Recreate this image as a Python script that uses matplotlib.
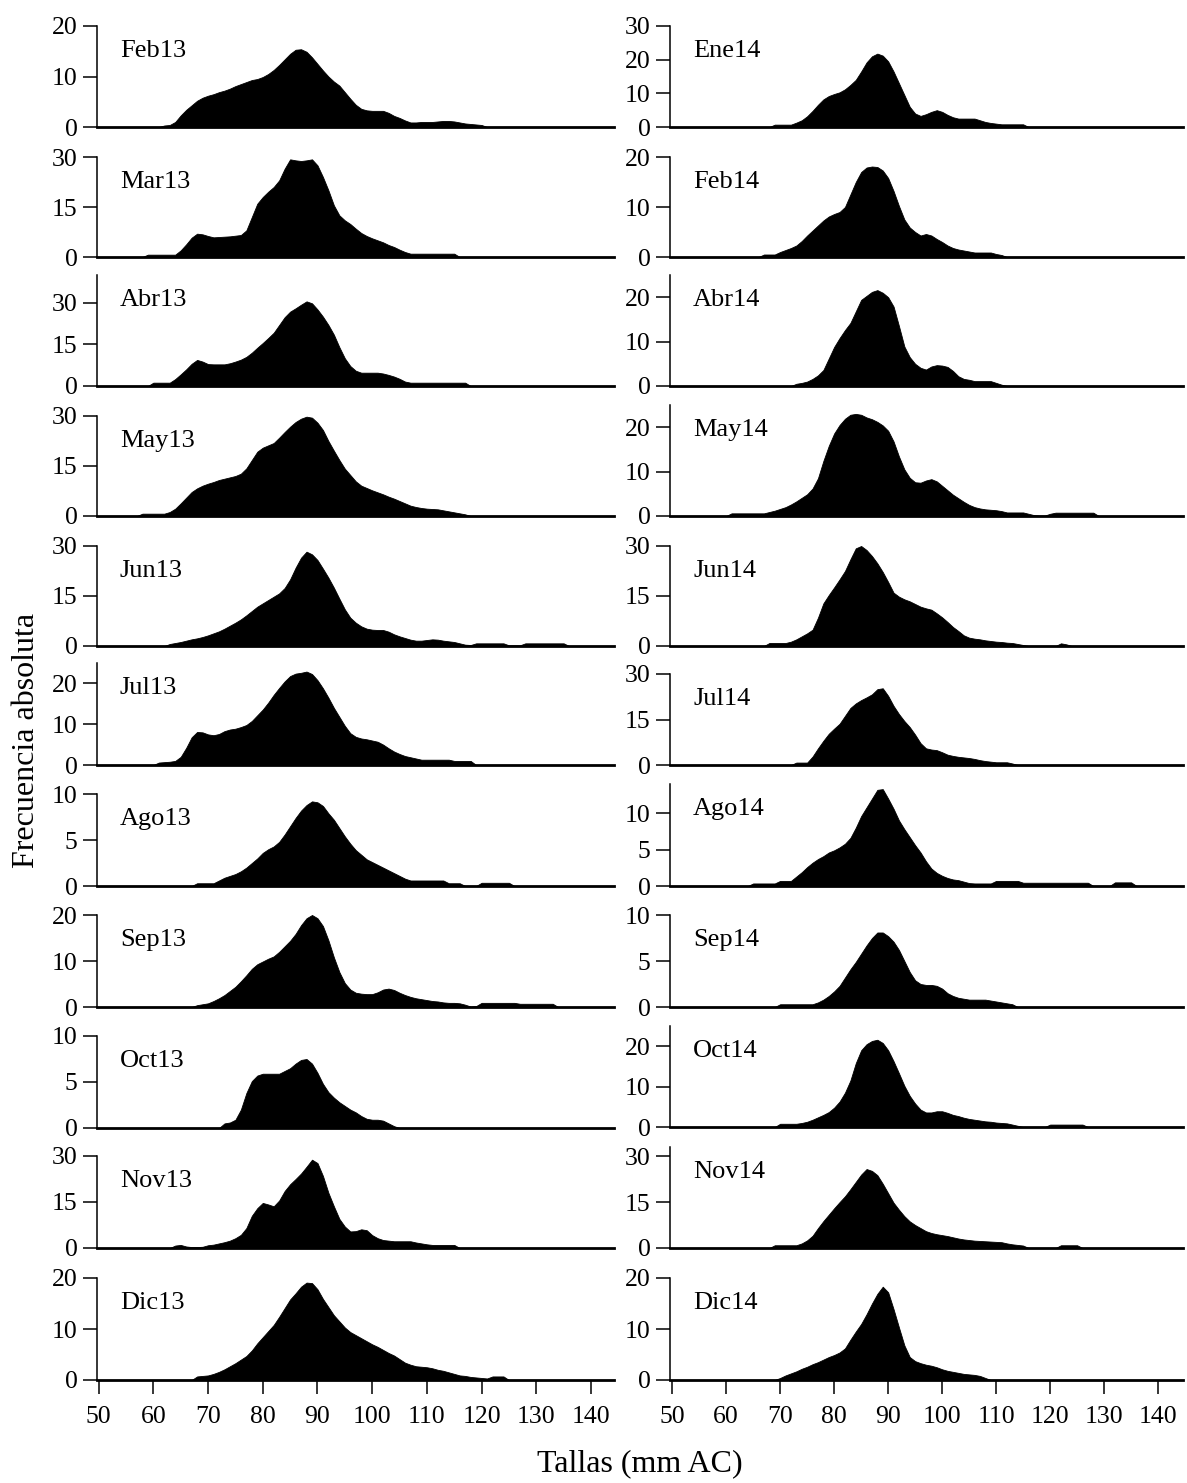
import numpy as np
import matplotlib
matplotlib.use("Agg")
import matplotlib.pyplot as plt

plt.rcParams["font.family"] = ["Liberation Serif", "DejaVu Serif"]

# size classes (mm AC), one value per mm
tallas = np.arange(50, 145)

meses_izq = ["Feb13", "Mar13", "Abr13", "May13", "Jun13", "Jul13",
             "Ago13", "Sep13", "Oct13", "Nov13", "Dic13"]
meses_der = ["Ene14", "Feb14", "Abr14", "May14", "Jun14", "Jul14",
             "Ago14", "Sep14", "Oct14", "Nov14", "Dic14"]

# frequencies, x = 50 ... 144
feb13 = [0, 0, 0, 0, 0, 0, 0, 0, 0, 0,
         0, 0, 0.3, 0.4, 1.0, 2.3, 3.4, 4.3, 5.2, 5.8,
         6.2, 6.5, 6.9, 7.2, 7.6, 8.1, 8.5, 8.9, 9.3, 9.5,
         9.9, 10.5, 11.3, 12.3, 13.4, 14.5, 15.3, 15.4, 14.9, 13.8,
         12.5, 11.2, 10.0, 9.0, 8.2, 6.9, 5.6, 4.4, 3.6, 3.3,
         3.2, 3.2, 3.2, 2.8, 2.2, 1.8, 1.3, 0.9, 0.9, 1.0,
         1.0, 1.0, 1.1, 1.2, 1.2, 1.1, 0.9, 0.7, 0.6, 0.5,
         0.4, 0, 0, 0, 0, 0, 0, 0, 0, 0,
         0, 0, 0, 0, 0, 0, 0, 0, 0, 0,
         0, 0, 0, 0, 0]
mar13 = [0, 0, 0, 0, 0, 0, 0, 0, 0, 0.7,
         0.7, 0.7, 0.7, 0.7, 0.7, 2.0, 3.8, 5.8, 7.0, 6.8,
         6.3, 5.9, 6.0, 6.1, 6.2, 6.4, 6.6, 8.0, 12.0, 16.0,
         18.0, 19.6, 21.0, 23.0, 26.5, 29.3, 29.0, 28.8, 29.0, 29.3,
         27.5, 24.0, 20.0, 15.5, 12.5, 11.0, 9.9, 8.5, 7.2, 6.3,
         5.6, 5.0, 4.4, 3.6, 3.0, 2.2, 1.5, 1.0, 1.0, 1.0,
         1.0, 1.0, 1.0, 1.0, 1.0, 1.0, 0, 0, 0, 0,
         0, 0, 0, 0, 0, 0, 0, 0, 0, 0,
         0, 0, 0, 0, 0, 0, 0, 0, 0, 0,
         0, 0, 0, 0, 0]
abr13 = [0, 0, 0, 0, 0, 0, 0, 0, 0, 0,
         1.2, 1.2, 1.2, 1.2, 2.5, 4.2, 6.0, 8.0, 9.4, 8.8,
         7.9, 7.8, 7.8, 7.8, 8.2, 8.8, 9.5, 10.5, 12.0, 13.8,
         15.5, 17.3, 19.2, 22.0, 24.8, 26.8, 28.0, 29.3, 30.5, 29.8,
         27.6, 25.0, 22.0, 18.5, 14.0, 10.0, 7.2, 5.5, 4.8, 4.8,
         4.8, 4.8, 4.5, 4.0, 3.4, 2.6, 1.6, 1.2, 1.2, 1.2,
         1.2, 1.2, 1.2, 1.2, 1.2, 1.2, 1.2, 1.2, 0, 0,
         0, 0, 0, 0, 0, 0, 0, 0, 0, 0,
         0, 0, 0, 0, 0, 0, 0, 0, 0, 0,
         0, 0, 0, 0, 0]
may13 = [0, 0, 0, 0, 0, 0, 0, 0, 0.7, 0.7,
         0.7, 0.7, 0.7, 1.2, 2.2, 3.8, 5.5, 7.2, 8.3, 9.1,
         9.7, 10.2, 10.8, 11.2, 11.6, 12.0, 12.7, 14.3, 16.8, 19.3,
         20.5, 21.2, 21.9, 23.5, 25.2, 26.8, 28.2, 29.2, 29.8, 29.5,
         28.0, 25.8, 22.5, 19.6, 16.8, 14.2, 12.3, 10.4, 9.1, 8.4,
         7.7, 7.1, 6.5, 5.8, 5.2, 4.5, 3.8, 3.1, 2.7, 2.4,
         2.2, 2.1, 2.0, 1.7, 1.4, 1.1, 0.8, 0.5, 0, 0,
         0, 0, 0, 0, 0, 0, 0, 0, 0, 0,
         0, 0, 0, 0, 0, 0, 0, 0, 0, 0,
         0, 0, 0, 0, 0]
jun13 = [0, 0, 0, 0, 0, 0, 0, 0, 0, 0,
         0, 0, 0, 0.6, 0.9, 1.2, 1.6, 2.0, 2.3, 2.7,
         3.2, 3.8, 4.4, 5.2, 6.1, 7.0, 8.0, 9.2, 10.5, 11.8,
         12.8, 13.8, 14.8, 15.8, 17.4, 20.0, 23.5, 26.5, 28.3, 27.5,
         25.8, 23.2, 20.5, 17.5, 14.2, 11.0, 8.5, 7.0, 5.9, 5.2,
         4.9, 4.8, 4.8, 4.3, 3.5, 2.9, 2.4, 1.9, 1.6, 1.6,
         1.8, 2.0, 1.9, 1.6, 1.4, 1.2, 0.8, 0.4, 0.3, 0.8,
         0.8, 0.8, 0.8, 0.8, 0.8, 0.2, 0.2, 0.2, 0.8, 0.8,
         0.8, 0.8, 0.8, 0.8, 0.8, 0.8, 0, 0, 0, 0,
         0, 0, 0, 0, 0]
jul13 = [0, 0, 0, 0, 0, 0, 0, 0, 0, 0,
         0, 0.6, 0.7, 0.8, 1.0, 2.0, 4.2, 6.8, 8.1, 8.0,
         7.5, 7.3, 7.6, 8.3, 8.7, 8.9, 9.3, 9.8, 10.8, 12.2,
         13.6, 15.3, 17.2, 18.9, 20.5, 21.8, 22.4, 22.6, 22.9, 22.3,
         20.8, 18.8, 16.5, 14.0, 11.8, 9.6, 7.8, 6.9, 6.5, 6.3,
         6.0, 5.7, 5.0, 4.1, 3.3, 2.7, 2.2, 1.9, 1.6, 1.3,
         1.3, 1.3, 1.3, 1.3, 1.3, 1.0, 1.0, 1.0, 1.0, 0,
         0, 0, 0, 0, 0, 0, 0, 0, 0, 0,
         0, 0, 0, 0, 0, 0, 0, 0, 0, 0,
         0, 0, 0, 0, 0]
ago13 = [0, 0, 0, 0, 0, 0, 0, 0, 0, 0,
         0, 0, 0, 0, 0, 0, 0, 0, 0.3, 0.3,
         0.3, 0.3, 0.6, 0.9, 1.1, 1.3, 1.6, 2.0, 2.5, 3.0,
         3.6, 4.0, 4.3, 4.8, 5.6, 6.5, 7.4, 8.2, 8.8, 9.2,
         9.1, 8.7, 7.9, 7.2, 6.3, 5.4, 4.6, 3.9, 3.4, 2.9,
         2.6, 2.3, 2.0, 1.7, 1.4, 1.1, 0.8, 0.6, 0.6, 0.6,
         0.6, 0.6, 0.6, 0.6, 0.3, 0.3, 0.3, 0, 0, 0,
         0.35, 0.35, 0.35, 0.35, 0.35, 0.35, 0, 0, 0, 0,
         0, 0, 0, 0, 0, 0, 0, 0, 0, 0,
         0, 0, 0, 0, 0]
sep13 = [0, 0, 0, 0, 0, 0, 0, 0, 0, 0,
         0, 0, 0, 0, 0, 0, 0, 0, 0.4, 0.6,
         0.8, 1.3, 1.9, 2.6, 3.5, 4.4, 5.6, 6.9, 8.3, 9.3,
         9.9, 10.5, 11.0, 12.0, 13.2, 14.4, 15.9, 17.8, 19.3, 20.0,
         19.3, 17.6, 14.5, 10.8, 7.6, 5.2, 3.8, 3.1, 2.9, 2.8,
         2.8, 3.2, 3.8, 4.0, 3.7, 3.1, 2.6, 2.2, 1.9, 1.7,
         1.5, 1.3, 1.2, 1.0, 0.9, 0.9, 0.8, 0.5, 0.1, 0.2,
         0.9, 0.9, 0.9, 0.9, 0.9, 0.9, 0.9, 0.7, 0.7, 0.7,
         0.7, 0.7, 0.7, 0.7, 0, 0, 0, 0, 0, 0,
         0, 0, 0, 0, 0]
oct13 = [0, 0, 0, 0, 0, 0, 0, 0, 0, 0,
         0, 0, 0, 0, 0, 0, 0, 0, 0, 0,
         0, 0, 0, 0.5, 0.6, 0.9, 2.0, 3.8, 5.1, 5.7,
         5.9, 5.9, 5.9, 5.9, 6.2, 6.5, 7.0, 7.4, 7.5, 7.0,
         6.0, 4.8, 3.9, 3.3, 2.8, 2.4, 2.0, 1.7, 1.3, 1.0,
         0.9, 0.9, 0.8, 0.5, 0.2, 0, 0, 0, 0, 0,
         0, 0, 0, 0, 0, 0, 0, 0, 0, 0,
         0, 0, 0, 0, 0, 0, 0, 0, 0, 0,
         0, 0, 0, 0, 0, 0, 0, 0, 0, 0,
         0, 0, 0, 0, 0]
nov13 = [0, 0, 0, 0, 0, 0, 0, 0, 0, 0,
         0, 0, 0, 0, 0.8, 1.0, 0.5, 0.3, 0.3, 0.4,
         0.9, 1.1, 1.5, 1.9, 2.4, 3.2, 4.3, 6.5, 10.5, 13.0,
         14.7, 14.2, 13.6, 15.5, 18.6, 20.8, 22.5, 24.3, 26.5, 28.8,
         27.7, 23.5, 18.0, 13.6, 9.5, 7.0, 5.4, 5.5, 6.1, 5.8,
         4.2, 3.2, 2.6, 2.4, 2.2, 2.2, 2.2, 2.2, 1.8, 1.5,
         1.2, 1.0, 1.0, 1.0, 1.0, 1.0, 0, 0, 0, 0,
         0, 0, 0, 0, 0, 0, 0, 0, 0, 0,
         0, 0, 0, 0, 0, 0, 0, 0, 0, 0,
         0, 0, 0, 0, 0]
dic13 = [0, 0, 0, 0, 0, 0, 0, 0, 0, 0,
         0, 0, 0, 0, 0, 0, 0, 0, 0.7, 0.8,
         0.9, 1.2, 1.6, 2.1, 2.7, 3.3, 4.0, 4.7, 5.8, 7.2,
         8.4, 9.6, 10.8, 12.4, 14.1, 15.8, 17.0, 18.3, 19.1, 19.0,
         17.8, 15.9, 14.3, 12.7, 11.5, 10.3, 9.4, 8.8, 8.2, 7.6,
         7.0, 6.5, 5.9, 5.3, 4.8, 4.1, 3.4, 3.0, 2.7, 2.6,
         2.5, 2.3, 2.0, 1.8, 1.5, 1.2, 0.9, 0.8, 0.6, 0.5,
         0.4, 0.3, 0.7, 0.7, 0.7, 0, 0, 0, 0, 0,
         0, 0, 0, 0, 0, 0, 0, 0, 0, 0,
         0, 0, 0, 0, 0]

ene14 = [0, 0, 0, 0, 0, 0, 0, 0, 0, 0,
         0, 0, 0, 0, 0, 0, 0, 0, 0, 0.7,
         0.7, 0.7, 0.7, 1.3, 2.0, 3.2, 4.8, 6.6, 8.2, 9.2,
         9.8, 10.3, 11.2, 12.5, 14.0, 16.5, 19.2, 21.0, 21.8, 21.2,
         19.5, 16.5, 13.0, 9.5, 6.0, 4.0, 3.3, 3.8, 4.5, 5.0,
         4.5, 3.6, 2.9, 2.5, 2.5, 2.5, 2.5, 2.0, 1.5, 1.2,
         1.0, 0.8, 0.8, 0.8, 0.8, 0.8, 0, 0, 0, 0,
         0, 0, 0, 0, 0, 0, 0, 0, 0, 0,
         0, 0, 0, 0, 0, 0, 0, 0, 0, 0,
         0, 0, 0, 0, 0]
feb14 = [0, 0, 0, 0, 0, 0, 0, 0, 0, 0,
         0, 0, 0, 0, 0, 0, 0, 0.5, 0.5, 0.5,
         1.0, 1.4, 1.8, 2.3, 3.2, 4.3, 5.3, 6.3, 7.3, 8.1,
         8.6, 9.0, 10.0, 12.5, 15.0, 17.0, 17.9, 18.1, 18.0, 17.3,
         15.8, 13.2, 10.2, 7.5, 5.9, 5.0, 4.3, 4.6, 4.3, 3.6,
         3.0, 2.3, 1.8, 1.5, 1.3, 1.1, 0.9, 0.9, 0.9, 0.9,
         0.6, 0.4, 0, 0, 0, 0, 0, 0, 0, 0,
         0, 0, 0, 0, 0, 0, 0, 0, 0, 0,
         0, 0, 0, 0, 0, 0, 0, 0, 0, 0,
         0, 0, 0, 0, 0]
abr14 = [0, 0, 0, 0, 0, 0, 0, 0, 0, 0,
         0, 0, 0, 0, 0, 0, 0, 0, 0, 0,
         0, 0, 0, 0.5, 0.7, 1.0, 1.6, 2.4, 3.6, 6.2,
         8.8, 10.8, 12.6, 14.2, 16.8, 19.4, 20.3, 21.2, 21.6, 21.0,
         20.0, 17.9, 13.5, 8.9, 6.5, 5.0, 4.1, 3.7, 4.4, 4.7,
         4.6, 4.3, 3.4, 2.2, 1.6, 1.4, 1.1, 1.1, 1.1, 1.1,
         0.7, 0.3, 0, 0, 0, 0, 0, 0, 0, 0,
         0, 0, 0, 0, 0, 0, 0, 0, 0, 0,
         0, 0, 0, 0, 0, 0, 0, 0, 0, 0,
         0, 0, 0, 0, 0]
may14 = [0, 0, 0, 0, 0, 0, 0, 0, 0, 0,
         0, 0.6, 0.6, 0.6, 0.6, 0.6, 0.6, 0.6, 0.9, 1.2,
         1.6, 2.0, 2.6, 3.3, 4.1, 4.9, 6.2, 8.5, 12.4, 15.8,
         18.6, 20.5, 21.9, 22.8, 23.0, 22.8, 22.2, 21.8, 21.2, 20.4,
         19.2, 16.8, 13.4, 10.5, 8.6, 7.6, 7.5, 8.0, 8.3, 7.8,
         6.8, 5.8, 4.8, 4.0, 3.2, 2.5, 2.0, 1.7, 1.5, 1.4,
         1.3, 1.1, 0.8, 0.8, 0.8, 0.8, 0.5, 0.2, 0.1, 0.1,
         0.5, 0.75, 0.75, 0.75, 0.75, 0.75, 0.75, 0.75, 0.75, 0,
         0, 0, 0, 0, 0, 0, 0, 0, 0, 0,
         0, 0, 0, 0, 0]
jun14 = [0, 0, 0, 0, 0, 0, 0, 0, 0, 0,
         0, 0, 0, 0, 0, 0, 0, 0, 0.9, 0.9,
         0.9, 0.9, 1.3, 2.0, 2.9, 3.8, 4.9, 8.5, 12.8, 15.3,
         17.6, 20.0, 22.5, 26.0, 29.3, 30.0, 28.8, 27.0, 24.8, 22.2,
         19.2, 16.0, 14.8, 14.0, 13.4, 12.6, 11.8, 11.3, 10.9, 9.8,
         8.6, 7.2, 5.7, 4.5, 3.2, 2.5, 2.2, 2.0, 1.7, 1.5,
         1.3, 1.2, 1.0, 0.9, 0.6, 0.3, 0, 0, 0, 0,
         0, 0, 0.8, 0.5, 0, 0, 0, 0, 0, 0,
         0, 0, 0, 0, 0, 0, 0, 0, 0, 0,
         0, 0, 0, 0, 0]
jul14 = [0, 0, 0, 0, 0, 0, 0, 0, 0, 0,
         0, 0, 0, 0, 0, 0, 0, 0, 0, 0,
         0, 0, 0, 0.8, 0.8, 0.8, 2.8, 5.5, 8.0, 10.3,
         12.0, 13.6, 16.2, 18.8, 20.3, 21.4, 22.3, 23.3, 25.0, 25.3,
         22.8, 19.5, 16.8, 14.5, 12.5, 10.0, 7.2, 5.5, 5.1, 4.9,
         4.2, 3.4, 3.0, 2.7, 2.5, 2.3, 2.0, 1.6, 1.3, 1.1,
         0.9, 0.9, 0.9, 0.5, 0, 0, 0, 0, 0, 0,
         0, 0, 0, 0, 0, 0, 0, 0, 0, 0,
         0, 0, 0, 0, 0, 0, 0, 0, 0, 0,
         0, 0, 0, 0, 0]
ago14 = [0, 0, 0, 0, 0, 0, 0, 0, 0, 0,
         0, 0, 0, 0, 0, 0.35, 0.35, 0.35, 0.35, 0.35,
         0.7, 0.7, 0.7, 1.3, 1.9, 2.6, 3.2, 3.7, 4.1, 4.6,
         4.9, 5.3, 5.8, 6.6, 8.0, 9.6, 10.8, 12.0, 13.2, 13.3,
         12.0, 10.6, 9.0, 7.8, 6.7, 5.6, 4.6, 3.4, 2.4, 1.8,
         1.4, 1.1, 0.9, 0.8, 0.6, 0.4, 0.35, 0.35, 0.35, 0.35,
         0.7, 0.7, 0.7, 0.7, 0.7, 0.45, 0.45, 0.45, 0.45, 0.45,
         0.45, 0.45, 0.45, 0.45, 0.45, 0.45, 0.45, 0.45, 0, 0,
         0, 0, 0.5, 0.5, 0.5, 0.5, 0, 0, 0, 0,
         0, 0, 0, 0, 0]
sep14 = [0, 0, 0, 0, 0, 0, 0, 0, 0, 0,
         0, 0, 0, 0, 0, 0, 0, 0, 0, 0,
         0.3, 0.3, 0.3, 0.3, 0.3, 0.3, 0.3, 0.5, 0.8, 1.2,
         1.7, 2.3, 3.2, 4.1, 4.9, 5.8, 6.7, 7.5, 8.1, 8.1,
         7.7, 7.1, 6.2, 5.0, 3.8, 2.9, 2.5, 2.4, 2.4, 2.3,
         2.0, 1.5, 1.2, 1.0, 0.9, 0.8, 0.8, 0.8, 0.8, 0.7,
         0.6, 0.5, 0.4, 0.3, 0, 0, 0, 0, 0, 0,
         0, 0, 0, 0, 0, 0, 0, 0, 0, 0,
         0, 0, 0, 0, 0, 0, 0, 0, 0, 0,
         0, 0, 0, 0, 0]
oct14 = [0, 0, 0, 0, 0, 0, 0, 0, 0, 0,
         0, 0, 0, 0, 0, 0, 0, 0, 0, 0,
         0.8, 0.8, 0.8, 0.8, 1.0, 1.3, 1.8, 2.4, 3.0, 3.7,
         4.8, 6.3, 8.5, 11.5, 15.8, 19.0, 20.5, 21.3, 21.6, 20.8,
         19.0, 16.3, 13.3, 10.2, 7.7, 5.8, 4.3, 3.6, 3.6, 3.9,
         3.9, 3.5, 3.0, 2.7, 2.3, 2.0, 1.8, 1.6, 1.4, 1.3,
         1.1, 1.0, 0.9, 0.6, 0.3, 0, 0, 0, 0, 0,
         0.6, 0.6, 0.6, 0.6, 0.6, 0.6, 0.6, 0, 0, 0,
         0, 0, 0, 0, 0, 0, 0, 0, 0, 0,
         0, 0, 0, 0, 0]
nov14 = [0, 0, 0, 0, 0, 0, 0, 0, 0, 0,
         0, 0, 0, 0, 0, 0, 0, 0, 0, 0.9,
         0.9, 0.9, 0.9, 0.9, 1.5, 2.5, 4.0, 6.5, 8.8, 10.9,
         13.0, 15.0, 16.9, 19.2, 21.6, 24.0, 25.8, 25.2, 23.8, 21.0,
         17.9, 14.8, 12.5, 10.4, 8.7, 7.5, 6.5, 5.5, 4.9, 4.5,
         4.2, 3.9, 3.5, 3.1, 2.8, 2.6, 2.4, 2.3, 2.2, 2.1,
         2.0, 1.9, 1.5, 1.2, 1.0, 0.8, 0, 0, 0, 0,
         0, 0, 0.9, 0.9, 0.9, 0.9, 0, 0, 0, 0,
         0, 0, 0, 0, 0, 0, 0, 0, 0, 0,
         0, 0, 0, 0, 0]
dic14 = [0, 0, 0, 0, 0, 0, 0, 0, 0, 0,
         0, 0, 0, 0, 0, 0, 0, 0, 0, 0,
         0.4, 0.9, 1.3, 1.7, 2.2, 2.6, 3.1, 3.5, 4.0, 4.5,
         4.9, 5.4, 6.2, 7.9, 9.5, 11.0, 12.9, 15.0, 16.9, 18.3,
         17.2, 13.9, 10.3, 6.8, 4.5, 3.7, 3.3, 3.0, 2.8, 2.5,
         2.1, 1.8, 1.6, 1.4, 1.2, 1.1, 1.0, 0.8, 0.4, 0,
         0, 0, 0, 0, 0, 0, 0, 0, 0, 0,
         0, 0, 0, 0, 0, 0, 0, 0, 0, 0,
         0, 0, 0, 0, 0, 0, 0, 0, 0, 0,
         0, 0, 0, 0, 0]

frec_izq = [feb13, mar13, abr13, may13, jun13, jul13, ago13, sep13, oct13, nov13, dic13]
frec_der = [ene14, feb14, abr14, may14, jun14, jul14, ago14, sep14, oct14, nov14, dic14]

# y-axis range and ticks of each panel
ytop_izq = [20, 30, 40, 30, 30, 25, 10, 20, 10, 30, 20]
yticks_izq = [[0, 10, 20], [0, 15, 30], [0, 15, 30], [0, 15, 30], [0, 15, 30], [0, 10, 20],
              [0, 5, 10], [0, 10, 20], [0, 5, 10], [0, 15, 30], [0, 10, 20]]
ytop_der = [30, 20, 25, 25, 30, 30, 14, 10, 25, 33, 20]
yticks_der = [[0, 10, 20, 30], [0, 10, 20], [0, 10, 20], [0, 10, 20], [0, 15, 30], [0, 15, 30],
              [0, 5, 10], [0, 5, 10], [0, 10, 20], [0, 15, 30], [0, 10, 20]]
xticks = [50, 60, 70, 80, 90, 100, 110, 120, 130, 140]

# layout in pixels: (top of y axis, zero line) of each row
W, H = 1187, 1483
filas_izq = [(26, 127), (157, 257), (275, 386), (416, 516), (546, 646), (663, 765),
             (794, 886), (915, 1007), (1036, 1128), (1156, 1248), (1278, 1380)]
filas_der = [(26, 127), (157, 257), (275, 386), (405, 516), (546, 646), (674, 765),
             (784, 886), (915, 1007), (1026, 1127), (1147, 1248), (1278, 1380)]

columnas = [
    (97, 614, (49.7, 144.2), meses_izq, frec_izq, ytop_izq, yticks_izq, filas_izq),
    (670, 1183, (49.6, 144.6), meses_der, frec_der, ytop_der, yticks_der, filas_der),
]

fig = plt.figure(figsize=(W / 100, H / 100), dpi=100)

for x0, x1, xlim, meses, frecs, ytops, yticks, filas in columnas:
    for i in range(len(meses)):
        top, zero = filas[i]
        ax = fig.add_axes([x0 / W, 1 - zero / H, (x1 - x0) / W, (zero - top) / H])
        ax.fill_between(tallas, frecs[i], color="black", linewidth=0.6)
        ax.set_xlim(*xlim)
        ax.set_ylim(0, ytops[i])
        ax.set_yticks(yticks[i])
        ax.spines["top"].set_visible(False)
        ax.spines["right"].set_visible(False)
        ax.spines["left"].set_linewidth(1.1)
        ax.spines["bottom"].set_linewidth(2.0)
        ax.tick_params(axis="y", length=10, width=1.1, pad=4, labelsize=18.5)
        if i == len(meses) - 1:
            ax.set_xticks(xticks)
            ax.tick_params(axis="x", length=10, width=1.1, pad=9, labelsize=18.5)
        else:
            ax.set_xticks([])
        ax.annotate(meses[i], xy=(0, 1), xycoords="axes fraction",
                    xytext=(23, -25), textcoords="offset pixels",
                    ha="left", va="center", fontsize=19)

fig.text(0.539, 1 - 1464 / H, "Tallas (mm AC)", ha="center", va="center", fontsize=23)
fig.text(27 / W, 1 - 740 / H, "Frecuencia absoluta", ha="center", va="center",
         rotation=90, fontsize=23)

fig.savefig("out.png", dpi=100)
